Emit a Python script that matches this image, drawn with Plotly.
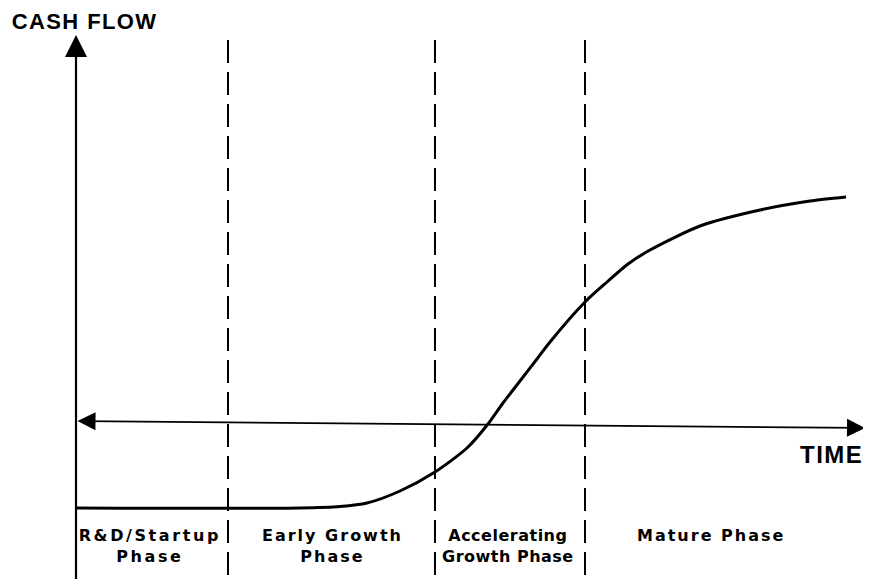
import plotly.graph_objects as go

# Conceptual life-cycle cash-flow curve (arbitrary units)
time = [0, 22.4, 26.4, 29.1, 32.4, 35.9, 39.1, 41.2, 42.7, 44.4, 46.1, 47.4, 50.9, 53.1, 55.2, 57.4, 62.4, 68.4, 73.4, 77.0]
cash_flow = [-8.5, -8.5, -8.35, -8.0, -6.8, -4.9, -2.5, -0.1, 2.0, 4.2, 6.4, 8.1, 12.1, 14.1, 15.9, 17.3, 19.7, 21.3, 22.2, 22.6]

phase_bounds = [15.2, 35.9, 50.9]
phase_labels = ["R&D/Startup<br>Phase", "Early Growth<br>Phase", "Accelerating<br>Growth Phase", "Mature Phase"]
phase_label_t = [7.4, 25.6, 43.2, 63.5]
phase_label_c = [-12.3, -12.3, -12.3, -11.2]

X_RANGE = [-6.8, 79.5]
Y_RANGE = [-15.6, 41.5]

fig = go.Figure()
fig.add_trace(go.Scatter(x=time, y=cash_flow, mode="lines",
                         line=dict(color="black", width=3, shape="spline", smoothing=0.7),
                         hoverinfo="skip", showlegend=False))

shapes = []
# y axis line
shapes.append(dict(type="line", xref="x", yref="y", x0=0, x1=0, y0=Y_RANGE[0], y1=37.0,
                   line=dict(color="black", width=2.2)))
# phase dashed boundaries
for b in phase_bounds:
    shapes.append(dict(type="line", xref="x", yref="y", x0=b, x1=b, y0=38.3, y1=Y_RANGE[0],
                       line=dict(color="black", width=2, dash="23px,9px")))
fig.update_layout(shapes=shapes)

annotations = []
# y axis arrow head
annotations.append(dict(x=0, y=38.8, ax=0, ay=33, xref="x", yref="y", axref="x", ayref="y",
                        showarrow=True, arrowhead=2, arrowsize=2.2, arrowwidth=2, arrowcolor="black", text=""))
# time axis, double headed
annotations.append(dict(x=78.9, y=-0.5, ax=0, ay=0.2, xref="x", yref="y", axref="x", ayref="y",
                        showarrow=True, arrowhead=2, startarrowhead=2, arrowside="end+start",
                        arrowsize=2.0, startarrowsize=2.0, arrowwidth=1.8, arrowcolor="black", text=""))
annotations.append(dict(x=-6.0, y=40.2, xref="x", yref="y", text="<b>CASH FLOW</b>", showarrow=False,
                        xanchor="left", yanchor="middle",
                        font=dict(family="Liberation Sans, Arial", size=22, color="black")))
annotations.append(dict(x=75.5, y=-3.1, xref="x", yref="y", text="<b>TIME</b>", showarrow=False,
                        xanchor="center", yanchor="middle",
                        font=dict(family="Liberation Sans, Arial", size=24, color="black")))
for lab, t, c in zip(phase_labels, phase_label_t, phase_label_c):
    annotations.append(dict(x=t, y=c, xref="x", yref="y", text=lab, showarrow=False,
                            xanchor="center", yanchor="middle",
                            font=dict(family="DejaVu Sans", size=16, color="black", weight="bold")))
fig.update_layout(annotations=annotations)

fig.update_layout(
    width=863, height=571,
    margin=dict(l=0, r=0, t=0, b=0),
    paper_bgcolor="white", plot_bgcolor="white",
    xaxis=dict(range=X_RANGE, visible=False, fixedrange=True),
    yaxis=dict(range=Y_RANGE, visible=False, fixedrange=True),
    showlegend=False,
)

spacing_js = """
document.querySelectorAll('.annotation-text').forEach(function(el){
  var t = el.textContent;
  if (t.indexOf('CASH') >= 0) { el.style.letterSpacing = '1.4px'; }
  else if (t.indexOf('TIME') >= 0) { el.style.letterSpacing = '1.5px'; }
  else if (t.indexOf('Accelerating') >= 0) { el.style.letterSpacing = '0.5px'; }
  else if (t.indexOf('Startup') >= 0) { el.style.letterSpacing = '2.6px'; }
  else { el.style.letterSpacing = '2px'; }
});
"""

fig.write_html("out.html", post_script=spacing_js)
